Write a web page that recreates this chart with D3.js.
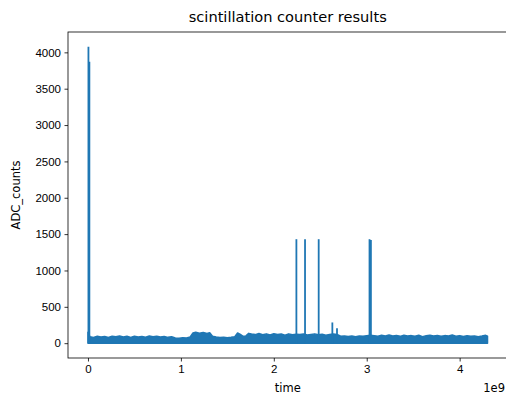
<!DOCTYPE html>
<html>
<head>
<meta charset="utf-8">
<script src="https://cdn.jsdelivr.net/npm/d3@7"></script>
<style>
  body { margin: 0; background: #fff; }
  svg { display: block; font-family: "DejaVu Sans", sans-serif; }
</style>
</head>
<body>
<div class="chart"></div>
<script>
// time axis values are in seconds-ish units (scaled by 1e9 on the axis)
const bandTime = [
  0.00e9, 0.02e9, 0.06e9, 0.10e9, 0.14e9, 0.18e9, 0.22e9, 0.26e9, 0.30e9, 0.34e9,
  0.38e9, 0.42e9, 0.46e9, 0.50e9, 0.54e9, 0.58e9, 0.62e9, 0.66e9, 0.70e9, 0.74e9,
  0.78e9, 0.82e9, 0.86e9, 0.90e9, 0.94e9, 0.98e9, 1.02e9, 1.06e9, 1.10e9, 1.13e9,
  1.16e9, 1.20e9, 1.24e9, 1.28e9, 1.31e9, 1.34e9, 1.38e9, 1.42e9, 1.46e9, 1.50e9,
  1.54e9, 1.58e9, 1.61e9, 1.64e9, 1.67e9, 1.70e9, 1.73e9, 1.76e9, 1.80e9, 1.84e9,
  1.88e9, 1.92e9, 1.96e9, 2.00e9, 2.04e9, 2.08e9, 2.12e9, 2.16e9, 2.20e9, 2.24e9,
  2.28e9, 2.32e9, 2.36e9, 2.40e9, 2.44e9, 2.48e9, 2.52e9, 2.56e9, 2.60e9, 2.64e9,
  2.68e9, 2.72e9, 2.76e9, 2.80e9, 2.84e9, 2.88e9, 2.92e9, 2.96e9, 3.00e9, 3.04e9,
  3.08e9, 3.12e9, 3.16e9, 3.20e9, 3.24e9, 3.28e9, 3.32e9, 3.36e9, 3.40e9, 3.44e9,
  3.48e9, 3.52e9, 3.56e9, 3.60e9, 3.64e9, 3.68e9, 3.72e9, 3.76e9, 3.80e9, 3.84e9,
  3.88e9, 3.92e9, 3.96e9, 4.00e9, 4.04e9, 4.08e9, 4.12e9, 4.16e9, 4.20e9, 4.24e9,
  4.28e9, 4.30e9
];
const bandTop = [
  150, 90, 80, 95, 85, 92, 78, 96, 88, 100,
  84, 94, 80, 97, 86, 93, 82, 98, 88, 95,
  84, 92, 80, 88, 72, 68, 75, 70, 85, 140,
  150, 138, 148, 135, 145, 95, 85, 78, 82, 75,
  80, 88, 140, 120, 95, 100, 135, 125, 118, 132,
  115, 128, 112, 130, 118, 126, 110, 128, 115, 122,
  118, 125, 112, 120, 128, 116, 122, 110, 118, 125,
  120, 95, 100, 92, 98, 90, 100, 94, 102, 110,
  104, 96, 108, 100, 112, 98, 106, 94, 110, 100,
  104, 96, 108, 90, 102, 110, 98, 106, 94, 104,
  100, 112, 96, 104, 92, 102, 96, 100, 90, 98,
  108, 95
];
// isolated high readings
const spikeTime = [0.005e9, 0.015e9, 2.243e9, 2.336e9, 2.483e9, 2.63e9, 2.68e9, 3.030e9, 3.045e9];
const spikeHeight = [4076, 3870, 1430, 1430, 1430, 285, 205, 1430, 1420];

const xTicks = [0, 1e9, 2e9, 3e9, 4e9];
const yTicks = [0, 500, 1000, 1500, 2000, 2500, 3000, 3500, 4000];

const W = 506, H = 397;
const margin = { top: 32, right: -1.5, bottom: 39, left: 68 };
const width = W - margin.left - margin.right;
const height = H - margin.top - margin.bottom;
const blue = '#1f77b4';

const svg = d3.select('.chart')
  .append('svg')
    .attr('width', W)
    .attr('height', H);

const g = svg.append('g')
  .attr('transform', `translate(${margin.left}, ${margin.top})`);

// matplotlib-like 5% margins around the data
const xMin = d3.min(bandTime), xMax = d3.max(bandTime);
const xPad = (xMax - xMin) * 0.05;
const yMax = d3.max(spikeHeight);
const yPad = yMax * 0.05;

const xScale = d3.scaleLinear()
  .domain([xMin - xPad, xMax + xPad])
  .range([0, width]);
const yScale = d3.scaleLinear()
  .domain([0 - yPad, yMax + yPad])
  .range([height, 0]);

// noise band
const band = bandTime.map((t, i) => ({ t, v: bandTop[i] }));
const area = d3.area()
  .x(d => xScale(d.t))
  .y0(yScale(0))
  .y1(d => yScale(d.v));

g.append('path')
  .datum(band)
  .attr('d', area)
  .style('fill', blue)
  .style('stroke', blue)
  .style('stroke-width', 1.5)
  .style('stroke-linejoin', 'round');

// spikes
g.selectAll('.spike')
  .data(spikeTime.map((t, i) => ({ t, v: spikeHeight[i] })))
  .enter()
  .append('line')
    .attr('class', 'spike')
    .attr('x1', d => xScale(d.t))
    .attr('x2', d => xScale(d.t))
    .attr('y1', yScale(0))
    .attr('y2', d => yScale(d.v))
  .style('stroke', blue)
  .style('stroke-width', 1.8);

// axes
const xAxis = d3.axisBottom(xScale)
  .tickValues(xTicks)
  .tickFormat(d => d / 1e9)
  .tickSizeOuter(0).tickSize(3.5).tickPadding(3.5);
const yAxis = d3.axisLeft(yScale)
  .tickValues(yTicks)
  .tickFormat(d3.format('d'))
  .tickSizeOuter(0).tickSize(3.5).tickPadding(3.5);

const gx = g.append('g')
  .attr('transform', `translate(0, ${height})`)
  .call(xAxis);
const gy = g.append('g').call(yAxis);

[gx, gy].forEach(a => {
  a.select('.domain').remove();
  a.selectAll('text').style('font-size', '11.5px').style('fill', '#000');
  a.selectAll('line').style('stroke', '#000').style('stroke-width', 0.8);
});

// spines
g.append('rect')
  .attr('width', width)
  .attr('height', height)
  .style('fill', 'none')
  .style('stroke', '#000')
  .style('stroke-width', 0.8);

// labels
svg.append('text')
  .attr('x', margin.left + width / 2)
  .attr('y', 22)
  .attr('text-anchor', 'middle')
  .style('font-size', '14.6px')
  .text('scintillation counter results');

svg.append('text')
  .attr('x', margin.left + width / 2)
  .attr('y', 392)
  .attr('text-anchor', 'middle')
  .style('font-size', '11.5px')
  .text('time');

svg.append('text')
  .attr('transform', `translate(20, ${margin.top + height / 2}) rotate(-90)`)
  .attr('text-anchor', 'middle')
  .style('font-size', '11.5px')
  .text('ADC_counts');

svg.append('text')
  .attr('x', 505)
  .attr('y', 392)
  .attr('text-anchor', 'end')
  .style('font-size', '11.5px')
  .text('1e9');
</script>
</body>
</html>
